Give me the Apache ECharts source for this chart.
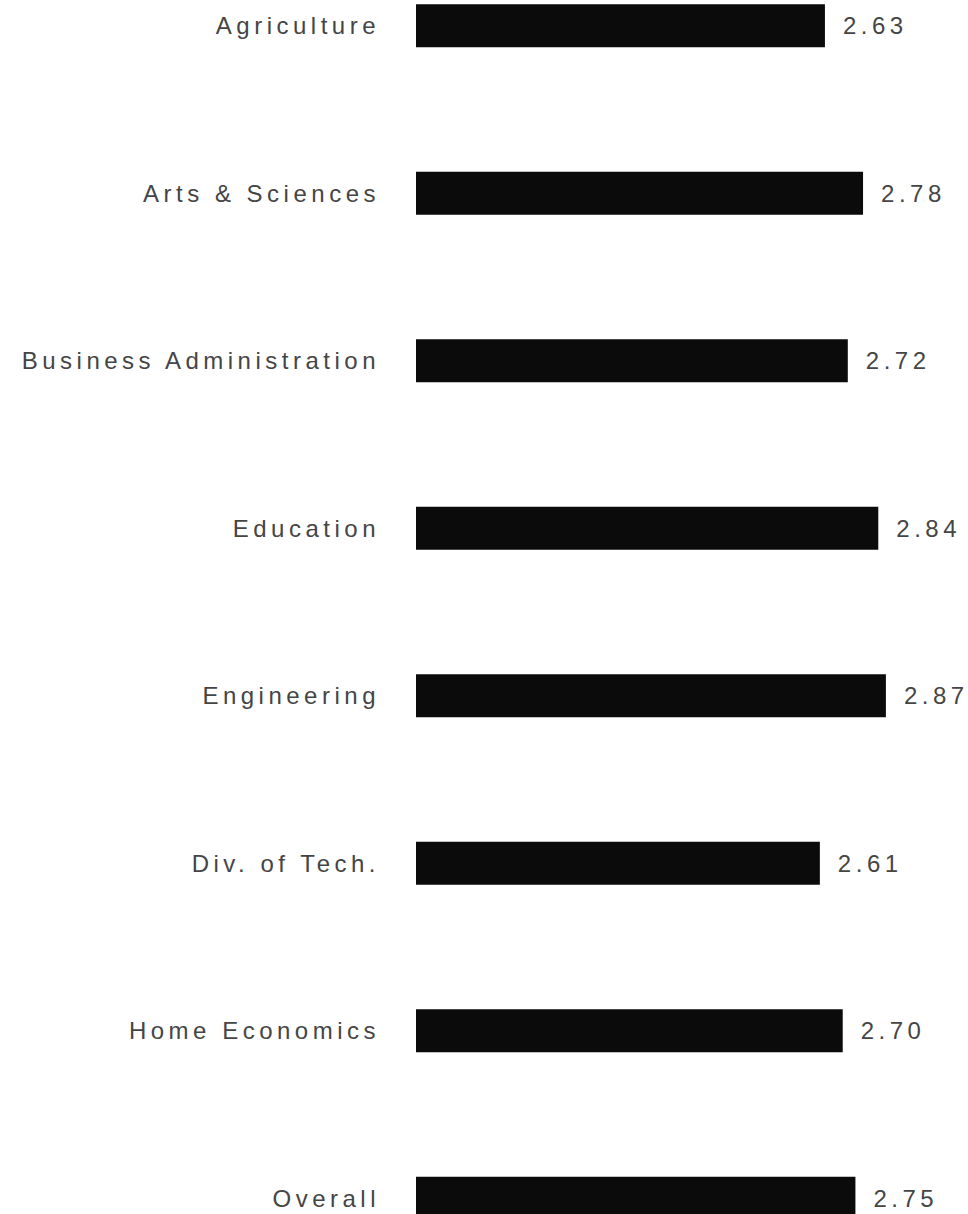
<!DOCTYPE html>
<html>
<head>
<meta charset="utf-8">
<script src="https://cdn.jsdelivr.net/npm/echarts@6/dist/echarts.min.js"></script>
<style>
  html, body { margin: 0; padding: 0; background: #ffffff; overflow: hidden; width: 968px; height: 1214px; position: relative; }
  #chart { position: absolute; left: 0; top: -58px; width: 968px; height: 1340px; }
  #chart svg text { letter-spacing: 4.5px; }
</style>
</head>
<body>
<div id="chart"></div>
<script>
const categories = ["Agriculture", "Arts & Sciences", "Business Administration", "Education", "Engineering", "Div. of Tech.", "Home Economics", "Overall"];
const values = [2.63, 2.78, 2.72, 2.84, 2.87, 2.61, 2.70, 2.75];
const valueLabels = ["2.63", "2.78", "2.72", "2.84", "2.87", "2.61", "2.70", "2.75"];

const chart = echarts.init(document.getElementById('chart'), null, { renderer: 'svg' });
chart.setOption({
  animation: false,
  backgroundColor: '#ffffff',
  grid: { left: 416, width: 508, top: 0, bottom: 0, containLabel: false },
  xAxis: {
    type: 'value', min: 1.02, max: 3.02,
    show: false
  },
  yAxis: {
    type: 'category', data: categories, inverse: true,
    axisLine: { show: false }, axisTick: { show: false }, splitLine: { show: false },
    axisLabel: {
      margin: 36, fontFamily: 'Liberation Sans, Arial, sans-serif',
      fontSize: 24, color: '#454545'
    }
  },
  series: [{
    type: 'bar', data: values, barWidth: 43,
    itemStyle: { color: '#0b0b0b' },
    label: {
      show: true, position: 'right', distance: 18,
      formatter: p => valueLabels[p.dataIndex],
      fontFamily: 'Liberation Sans, Arial, sans-serif',
      fontSize: 24, color: '#454545'
    }
  }]
});
</script>
</body>
</html>
